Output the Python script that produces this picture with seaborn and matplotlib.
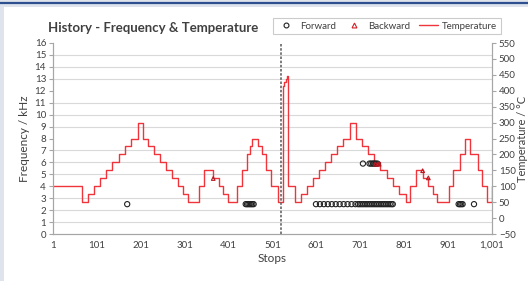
"""
plot.py
History chart: frequency markers (left axis) and temperature staircase
(right axis) against stop number.
"""

import matplotlib
matplotlib.use("Agg")
import matplotlib.pyplot as plt
from matplotlib.lines import Line2D
from matplotlib.patches import Rectangle
import pandas as pd
import seaborn as sns

# ---------------------------------------------------------
# Data
# ---------------------------------------------------------
# temperature level changes: stop where a level starts, level in degC
temp_stops = [1, 68, 81, 95, 108, 122, 135, 151, 164, 178, 195, 207, 218, 231,
              245, 258, 271, 285, 298, 309, 334, 346, 366, 378, 389, 399, 419,
              431, 443, 450, 455, 469, 476, 487, 498, 514, 524, 526, 528, 531,
              534, 536, 553, 567, 580, 594, 607, 621, 634, 648, 661, 677, 691,
              705, 719, 733, 747, 761, 775, 790, 804, 815, 829, 843, 856, 866,
              876, 902, 913, 928, 939, 952, 968, 978, 990, 1000, 1001]
temp_values = [100, 50, 75, 100, 125, 150, 175, 200, 225, 250, 300, 250, 225, 200,
               175, 150, 125, 100, 75, 50, 100, 150, 125, 100, 75, 50, 100,
               150, 200, 225, 250, 225, 200, 150, 100, 50, 390, 415, 428, 438,
               445, 100, 50, 75, 100, 125, 150, 175, 200, 225, 250, 300, 250,
               225, 200, 175, 150, 125, 100, 75, 50, 100, 150, 125, 100, 75,
               50, 100, 150, 200, 250, 200, 150, 100, 50, 100, 100]

# forward runs (frequency in kHz)
forward_stops = [170, 440, 443, 446, 449, 452, 455, 458,
                 600, 609, 618, 627, 636, 645, 654, 663, 672, 681, 690,
                 696, 700, 704, 708, 712, 716, 720, 724, 728, 732, 736, 740,
                 744, 748, 752, 756, 760, 764, 768, 772, 775,
                 707, 722, 726, 730, 733, 736, 740,
                 925, 928, 931, 934, 960]
forward_freq = [2.5, 2.5, 2.5, 2.5, 2.5, 2.5, 2.5, 2.5,
                2.5, 2.5, 2.5, 2.5, 2.5, 2.5, 2.5, 2.5, 2.5, 2.5, 2.5,
                2.5, 2.5, 2.5, 2.5, 2.5, 2.5, 2.5, 2.5, 2.5, 2.5, 2.5, 2.5,
                2.5, 2.5, 2.5, 2.5, 2.5, 2.5, 2.5, 2.5, 2.5,
                5.9, 5.9, 5.9, 5.9, 5.9, 5.9, 5.9,
                2.5, 2.5, 2.5, 2.5, 2.5]

# backward runs
backward_stops = [366, 735, 740, 744, 843, 856]
backward_freq = [4.65, 5.85, 5.85, 5.85, 5.3, 4.7]

marker_stop = 520
x_ticks = [1, 101, 201, 301, 401, 501, 601, 701, 801, 901, 1001]
x_labels = ["1", "101", "201", "301", "401", "501", "601", "701", "801", "901", "1,001"]
freq_ticks = list(range(0, 17))
temp_ticks = list(range(-50, 551, 50))

RED = "#f0343c"
TEXT = "#404040"
GRID = "#d9d9d9"
SPINE = "#a6a6a6"

# ---------------------------------------------------------
# Figure
# ---------------------------------------------------------
sns.set_style("white")
plt.rcParams["font.family"] = ["Lato", "DejaVu Sans"]

fig = plt.figure(figsize=(5.28, 2.81), dpi=100)
fig.patch.set_facecolor("#dfe4ec")
fig.patches.append(Rectangle((4 / 528, 0), 1, 1 - 7 / 281, transform=fig.transFigure,
                             facecolor="white", edgecolor="none", zorder=-5))
fig.lines.append(Line2D([0, 1], [1 - 3 / 281, 1 - 3 / 281], transform=fig.transFigure,
                        color="#2d4f8f", lw=1.6, zorder=-4))

ax = fig.add_axes([53 / 528, 1 - 234 / 281, 439 / 528, 191 / 281])
ax2 = ax.twinx()

temp_df = pd.DataFrame({"stop": temp_stops, "temp": temp_values})
fwd_df = pd.DataFrame({"stop": forward_stops, "freq": forward_freq})
bwd_df = pd.DataFrame({"stop": backward_stops, "freq": backward_freq})

# temperature on the right axis, drawn underneath the markers
sns.lineplot(data=temp_df, x="stop", y="temp", ax=ax2, color=RED, lw=1.0,
             drawstyle="steps-post", estimator=None, sort=False)
ax2.set_ylim(-50, 550)
ax2.set_yticks(temp_ticks)
# grid at every kHz, expressed on the temperature axis
ax2.set_yticks([-50 + 37.5 * k for k in range(1, 17)], minor=True)
ax2.grid(which="minor", axis="y", color=GRID, lw=0.8)
ax2.tick_params(axis="y", which="minor", length=0)
ax2.tick_params(axis="y", which="major", labelsize=7, colors=TEXT, length=3,
                color=SPINE, direction="out", pad=2)
ax2.set_ylabel("Temperature / °C", fontsize=8, color=TEXT, labelpad=1)

ax.set_zorder(ax2.get_zorder() + 1)
ax.patch.set_visible(False)

sns.scatterplot(data=fwd_df, x="stop", y="freq", ax=ax, marker="o", s=14,
                facecolor="none", edgecolor="#222222", linewidth=0.8)
sns.scatterplot(data=bwd_df, x="stop", y="freq", ax=ax, marker="^", s=7,
                facecolor="none", edgecolor="#b81820", linewidth=0.8)
ax.axvline(marker_stop, color="#666666", lw=1.2, ls=(0, (1.5, 1)))

ax.set_xlim(1, 1001)
ax.set_ylim(0, 16)
ax.set_xticks(x_ticks)
ax.set_xticklabels(x_labels)
ax.set_yticks(freq_ticks)
ax.tick_params(axis="both", labelsize=7, colors=TEXT, length=3, color=SPINE,
               direction="out", pad=2)
ax.set_xlabel("Stops", fontsize=8.5, color=TEXT, labelpad=2)
ax.set_ylabel("Frequency / kHz", fontsize=8.5, color=TEXT, labelpad=3)

for a in (ax, ax2):
    a.spines["top"].set_visible(False)
    for side in ("left", "right", "bottom"):
        a.spines[side].set_color(SPINE)
        a.spines[side].set_linewidth(0.8)

fig.text(48 / 528, 1 - 28 / 281, "History - Frequency & Temperature",
         fontsize=9.5, color=TEXT, fontweight="bold", ha="left", va="center")

handles = [
    Line2D([], [], ls="none", marker="o", ms=3.5, mfc="none", mec="#222222", mew=0.8),
    Line2D([], [], ls="none", marker="^", ms=3.5, mfc="none", mec="#d0202a", mew=0.8),
    Line2D([], [], color=RED, lw=1.0),
]
leg = fig.legend(handles, ["Forward", "Backward", "Temperature"], ncol=3,
                 loc="center", bbox_to_anchor=(387 / 528, 1 - 26 / 281),
                 fontsize=7, frameon=True, fancybox=False, handlelength=2.0,
                 handletextpad=0.4, columnspacing=0.9, borderpad=0.4)
leg.get_frame().set_edgecolor("#bfbfbf")
leg.get_frame().set_linewidth(0.8)
for t in leg.get_texts():
    t.set_color(TEXT)

fig.savefig("out.png", dpi=100)
